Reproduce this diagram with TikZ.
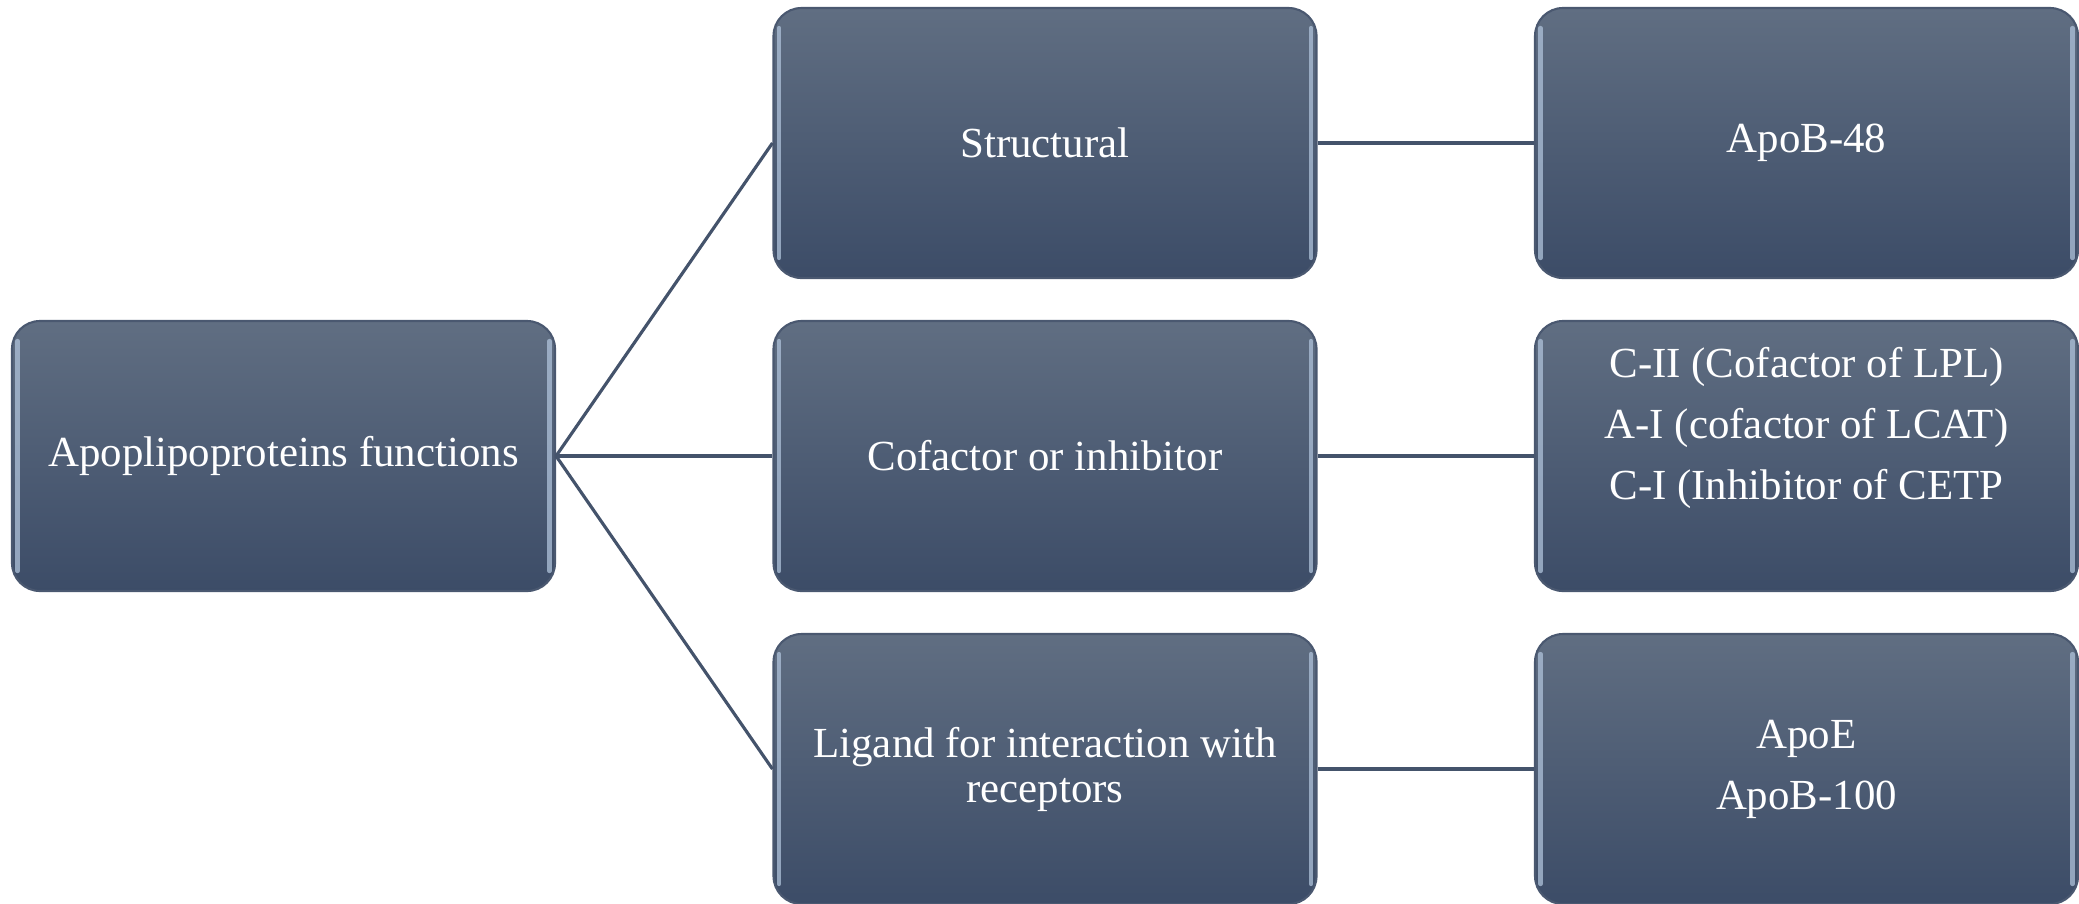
\documentclass[tikz,border=0pt]{standalone}
\usepackage{fontspec}
\setmainfont{Liberation Serif}
\definecolor{boxtop}{HTML}{606E82}
\definecolor{boxbot}{HTML}{3C4C67}
\definecolor{boxedge}{HTML}{4A5870}
\definecolor{hilite}{HTML}{AFC2DA}
\definecolor{linkcol}{HTML}{44536B}
\begin{document}
\begin{tikzpicture}[
  apobox/.style={rounded corners=0.28cm, minimum width=5.43cm, minimum height=2.7cm,
    top color=boxtop, bottom color=boxbot, draw=boxedge, line width=0.6pt,
    text=white, align=center, inner sep=0pt,
    font=\fontsize{12.2}{17.4}\selectfont,
    path picture={
      \draw[hilite, line width=1.2pt, line cap=round, opacity=0.75]
        ([xshift=0.055cm,yshift=-0.2cm]path picture bounding box.north west) --
        ([xshift=0.055cm,yshift=0.2cm]path picture bounding box.south west);
      \draw[hilite, line width=1.2pt, line cap=round, opacity=0.75]
        ([xshift=-0.055cm,yshift=-0.2cm]path picture bounding box.north east) --
        ([xshift=-0.055cm,yshift=0.2cm]path picture bounding box.south east);
    }},
  link/.style={draw=linkcol, line width=0.9pt}
]
\useasboundingbox (0,0) rectangle (20.79,-9.03);

\node[apobox] (root) at (2.835,-4.56) {Apoplipoproteins functions};

\node[apobox] (struct) at (10.45,-1.43) {Structural};
\node[apobox] (cofac) at (10.45,-4.56) {Cofactor or inhibitor};
\node[apobox, font=\fontsize{12.2}{12.8}\selectfont] (ligand) at (10.45,-7.69)
  {Ligand for interaction with\\receptors};

\node[apobox] (apob48) at (18.065,-1.43) {ApoB-48};
\node[apobox] (cfx) at (18.065,-4.56)
  {\begin{tabular}{@{}c@{}}C-II (Cofactor of LPL)\\A-I (cofactor of LCAT)\\C-I (Inhibitor of CETP\\[0.6cm]\end{tabular}};
\node[apobox] (apoe) at (18.065,-7.69) {ApoE\\ApoB-100};

\draw[link] (root.east) -- (struct.west);
\draw[link] (root.east) -- (cofac.west);
\draw[link] (root.east) -- (ligand.west);
\draw[link] (struct.east) -- (apob48.west);
\draw[link] (cofac.east) -- (cfx.west);
\draw[link] (ligand.east) -- (apoe.west);
\end{tikzpicture}
\end{document}
